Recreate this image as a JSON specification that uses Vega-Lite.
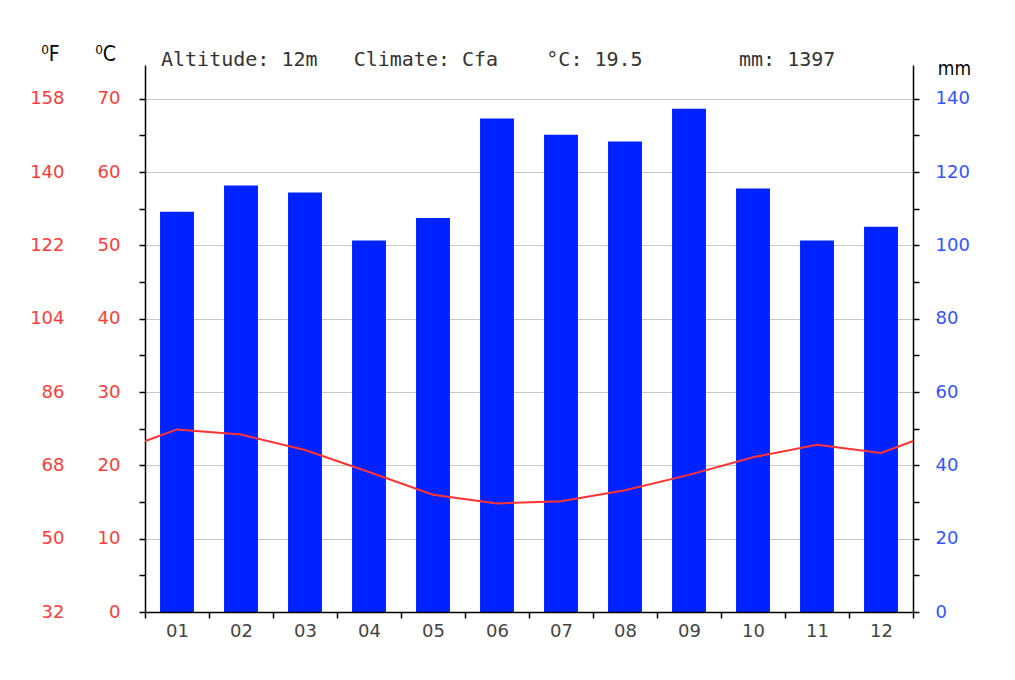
{
  "$schema": "https://vega.github.io/schema/vega-lite/v6.json",
  "width": 768,
  "height": 547,
  "autosize": {"type": "none"},
  "padding": {"left": 145, "top": 65, "right": 102, "bottom": 68},
  "background": "white",
  "config": {"view": {"stroke": null}},
  "title": {
    "text": "Altitude:\u00a012m\u00a0\u00a0\u00a0Climate:\u00a0Cfa\u00a0\u00a0\u00a0\u00a0°C:\u00a019.5\u00a0\u00a0\u00a0\u00a0\u00a0\u00a0\u00a0\u00a0mm:\u00a01397",
    "anchor": "start",
    "frame": "group",
    "font": "DejaVu Sans Mono",
    "fontSize": 20,
    "fontWeight": "normal",
    "color": "#333333",
    "baseline": "alphabetic",
    "dx": 16,
    "offset": -43
  },
  "datasets": {
    "months": [
      {"m": "01", "p": 109.2, "t": 24.9},
      {"m": "02", "p": 116.3, "t": 24.2},
      {"m": "03", "p": 114.4, "t": 22.1},
      {"m": "04", "p": 101.3, "t": 19.1},
      {"m": "05", "p": 107.5, "t": 16.0},
      {"m": "06", "p": 134.6, "t": 14.8},
      {"m": "07", "p": 130.2, "t": 15.1},
      {"m": "08", "p": 128.3, "t": 16.6},
      {"m": "09", "p": 137.3, "t": 18.7},
      {"m": "10", "p": 115.5, "t": 21.1},
      {"m": "11", "p": 101.3, "t": 22.8},
      {"m": "12", "p": 105.1, "t": 21.7}
    ],
    "templine": [
      {"n": 0, "t": 21.7},
      {"n": 1, "t": 24.9},
      {"n": 2, "t": 24.2},
      {"n": 3, "t": 22.1},
      {"n": 4, "t": 19.1},
      {"n": 5, "t": 16.0},
      {"n": 6, "t": 14.8},
      {"n": 7, "t": 15.1},
      {"n": 8, "t": 16.6},
      {"n": 9, "t": 18.7},
      {"n": 10, "t": 21.1},
      {"n": 11, "t": 22.8},
      {"n": 12, "t": 21.7},
      {"n": 13, "t": 24.9}
    ]
  },
  "layer": [
    {
      "data": {"name": "months"},
      "mark": {"type": "point", "opacity": 0},
      "encoding": {
        "x": {"field": "m", "type": "nominal", "axis": null},
        "y": {
          "field": "t",
          "type": "quantitative",
          "scale": {"domain": [0, 74.6], "nice": false, "zero": true},
          "axis": {
            "orient": "left",
            "offset": 81,
            "values": [0, 10, 20, 30, 40, 50, 60, 70],
            "labelExpr": "format(datum.value * 1.8 + 32, 'd')",
            "domain": false,
            "ticks": false,
            "tickSize": 0,
            "labelPadding": 0,
            "grid": false,
            "labelColor": "#ff3b3b",
            "labelFont": "DejaVu Sans",
            "labelFontSize": 18,
            "title": "⁰F",
            "titleAngle": 0,
            "titleX": -14,
            "titleY": -11,
            "titleAlign": "center",
            "titleBaseline": "middle",
            "titleFont": "DejaVu Sans Condensed, Roboto Condensed, Roboto, sans-serif",
            "titleFontSize": 21,
            "titleFontWeight": "normal",
            "titleColor": "#000000"
          }
        }
      }
    },
    {
      "data": {"name": "months"},
      "mark": {"type": "bar", "color": "#0022ff", "width": {"band": 0.53}},
      "encoding": {
        "x": {
          "field": "m",
          "type": "nominal",
          "scale": {"paddingInner": 0, "paddingOuter": 0},
          "axis": {
            "orient": "bottom",
            "title": null,
            "tickBand": "extent",
            "labelAngle": 0,
            "domainColor": "#000000",
            "domainWidth": 1.5,
            "tickColor": "#000000",
            "tickSize": 6,
            "tickWidth": 1.5,
            "labelColor": "#444444",
            "labelFont": "DejaVu Sans",
            "labelFontSize": 18,
            "labelPadding": 4,
            "zindex": 1
          }
        },
        "y": {
          "field": "p",
          "type": "quantitative",
          "scale": {"domain": [0, 149.2], "nice": false, "zero": true},
          "axis": {
            "orient": "right",
            "values": [0, 10, 20, 30, 40, 50, 60, 70, 80, 90, 100, 110, 120, 130, 140],
            "labelExpr": "datum.value % 20 == 0 ? datum.label : ''",
            "grid": false,
            "domainColor": "#000000",
            "domainWidth": 1.5,
            "tickColor": "#000000",
            "tickSize": 6,
            "tickWidth": 1.5,
            "labelPadding": 16,
            "labelColor": "#3355ff",
            "labelFont": "DejaVu Sans",
            "labelFontSize": 18,
            "title": "mm",
            "titleAngle": 0,
            "titleX": 41,
            "titleY": 3,
            "titleAlign": "center",
            "titleBaseline": "middle",
            "titleFont": "DejaVu Sans Condensed, Roboto Condensed, Roboto, sans-serif",
            "titleFontSize": 19,
            "titleFontWeight": "normal",
            "titleColor": "#000000"
          }
        }
      }
    },
    {
      "data": {"name": "templine"},
      "mark": {"type": "line", "color": "#ff3333", "strokeWidth": 2, "clip": true},
      "encoding": {
        "x": {
          "field": "n",
          "type": "quantitative",
          "scale": {"domain": [0.5, 12.5], "nice": false, "zero": false},
          "axis": null
        },
        "y": {
          "field": "t",
          "type": "quantitative",
          "scale": {"domain": [0, 74.6], "nice": false, "zero": true},
          "axis": {
            "orient": "left",
            "values": [0, 5, 10, 15, 20, 25, 30, 35, 40, 45, 50, 55, 60, 65, 70],
            "labelExpr": "datum.value % 10 == 0 ? datum.label : ''",
            "grid": true,
            "gridColor": "#c8c8c8",
            "gridWidth": 1.2,
            "gridOpacity": {"condition": {"test": "datum.value % 10 == 0", "value": 1}, "value": 0},
            "domainColor": "#000000",
            "domainWidth": 1.5,
            "tickColor": "#000000",
            "tickSize": 6,
            "tickWidth": 1.5,
            "labelPadding": 19,
            "labelColor": "#ff3b3b",
            "labelFont": "DejaVu Sans",
            "labelFontSize": 18,
            "title": "⁰C",
            "titleAngle": 0,
            "titleX": -40,
            "titleY": -11,
            "titleAlign": "center",
            "titleBaseline": "middle",
            "titleFont": "DejaVu Sans Condensed, Roboto Condensed, Roboto, sans-serif",
            "titleFontSize": 21,
            "titleFontWeight": "normal",
            "titleColor": "#000000"
          }
        }
      }
    }
  ],
  "resolve": {"scale": {"x": "independent", "y": "independent"}, "axis": {"x": "independent", "y": "independent"}}
}
